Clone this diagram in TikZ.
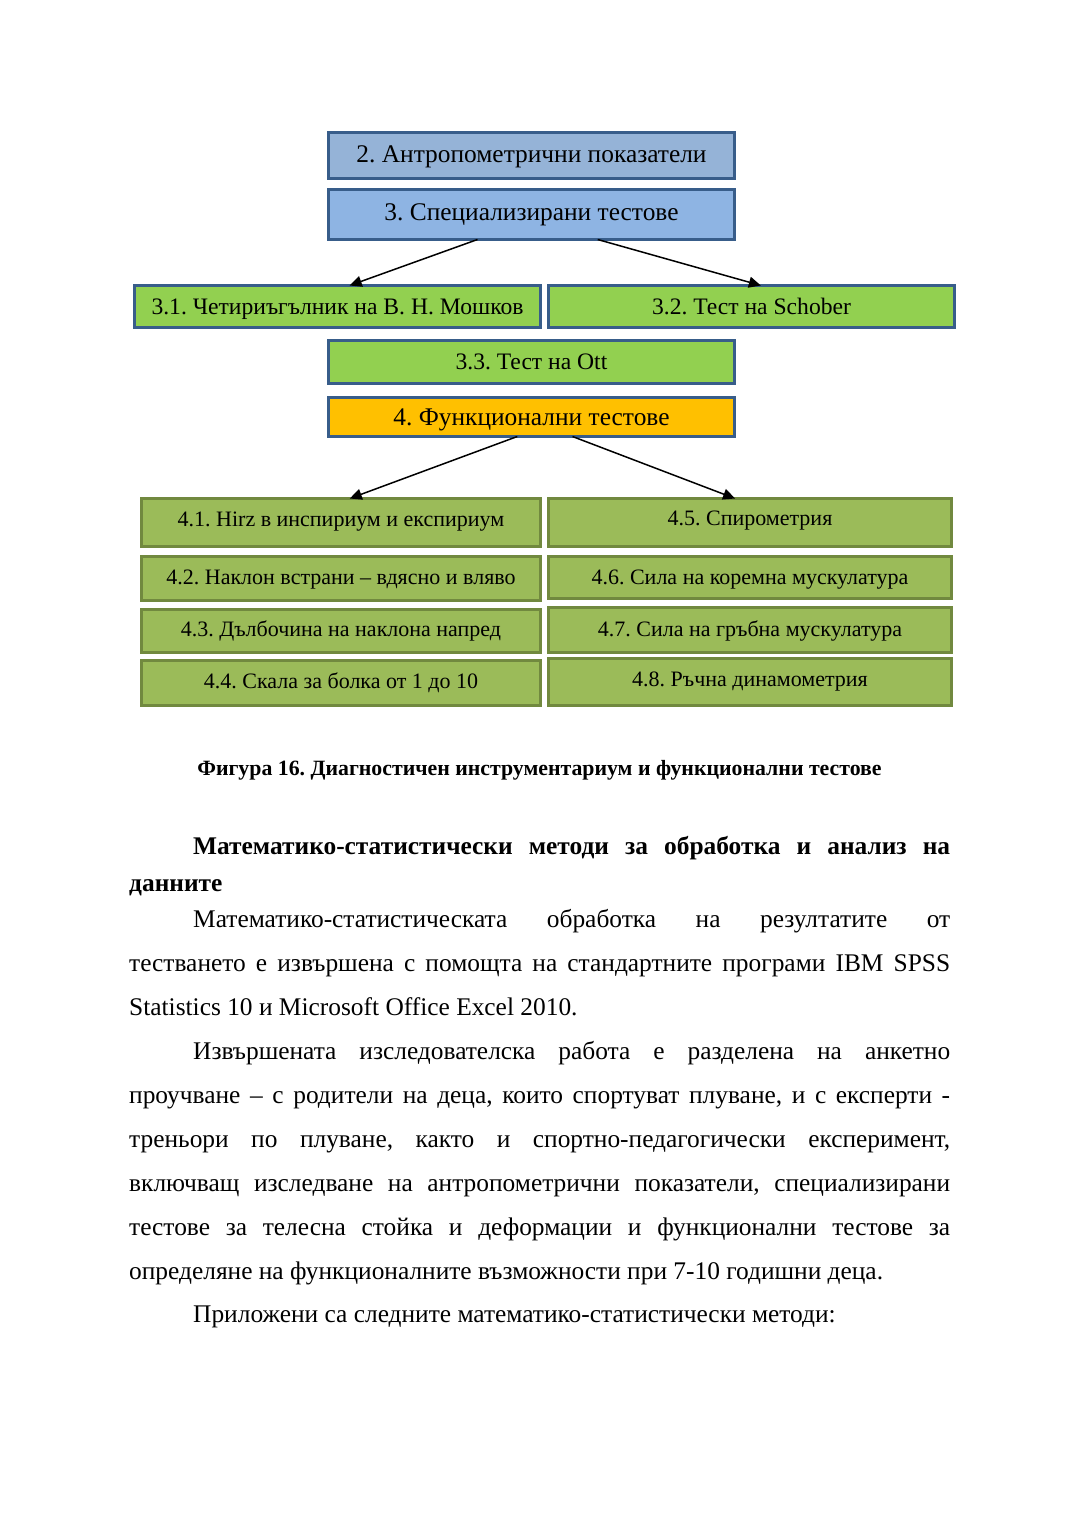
\documentclass[tikz,border=0pt]{standalone}
\usepackage{fontspec}
\setmainfont{Liberation Serif}
\usetikzlibrary{arrows.meta,calc}
\definecolor{bordblue}{HTML}{385D8A}
\definecolor{fillA}{HTML}{95B3D7}
\definecolor{fillB}{HTML}{8EB4E3}
\definecolor{fillG}{HTML}{92D050}
\definecolor{fillO}{HTML}{FFC000}
\definecolor{fillOl}{HTML}{9BBB59}
\definecolor{bordOl}{HTML}{71893F}
\tikzset{
  bx/.style={draw=bordblue, line width=3pt, inner sep=0pt, outer sep=0pt, font=\fontsize{25.4}{28}\selectfont, text=black, text height=17pt, text depth=2.6pt},
  gb/.style={bx, fill=fillG, font=\fontsize{23.6}{27}\selectfont, text height=16pt, text depth=-1pt},
  ob/.style={draw=bordOl, fill=fillOl, line width=3pt, inner sep=0pt, outer sep=0pt, font=\fontsize{22}{26}\selectfont, minimum height=#1, text height=15pt, text depth=4pt},
  arr/.style={line width=1.5pt, -{Triangle[length=12pt,width=11pt]}},
  txt/.style={anchor=base west, inner sep=0pt, font=\fontsize{25.4}{30}\selectfont},
  btxt/.style={anchor=base west, inner sep=0pt, font=\fontsize{25.4}{30}\selectfont\bfseries},
}
\begin{document}
\frenchspacing
\begin{tikzpicture}[x=1pt,y=-1pt]
\useasboundingbox[fill=white] (0,0) rectangle (1080,1527);
% top boxes
\node[bx, fill=fillA, minimum width=406pt, minimum height=46pt] (b2) at (531.5,155.5) {2. Антропометрични показатели};
\node[bx, fill=fillB, minimum width=406pt, minimum height=50pt, text depth=6pt] (b3) at (531.5,214.5) {3. Специализирани тестове};
\node[gb, minimum width=406pt, minimum height=42pt] (b31) at (337.5,306.5) {3.1. Четириъгълник на В. Н. Мошков};
\node[gb, minimum width=406pt, minimum height=42pt] (b32) at (751.5,306.5) {3.2. Тест на Schober};
\node[gb, minimum width=406pt, minimum height=43pt, text depth=1.4pt] (b33) at (531.5,362) {3.3. Тест на Ott};
\node[bx, fill=fillO, minimum width=406pt, minimum height=39pt, text depth=-3.6pt] (b4) at (531.5,417) {4. Функционални тестове};
% functional tests
\node[ob=48pt, minimum width=399pt, text depth=6.6pt] (b41) at (341,522.5) {4.1. Hirz в инспириум и експириум};
\node[ob=44pt, minimum width=399pt, text depth=4pt] (b42) at (341,578.5) {4.2. Наклон встрани – вдясно и вляво};
\node[ob=43pt, minimum width=399pt, text depth=3.6pt] (b43) at (341,631) {4.3. Дълбочина на наклона напред};
\node[ob=45pt, minimum width=399pt, text depth=4.4pt] (b44) at (341,683) {4.4. Скала за болка от 1 до 10};
\node[ob=48pt, minimum width=403pt, text depth=8.6pt] (b45) at (750,522.5) {4.5. Спирометрия};
\node[ob=42pt, minimum width=403pt, text depth=2pt] (b46) at (750,577.5) {4.6. Сила на коремна мускулатура};
\node[ob=45pt, minimum width=403pt, text depth=3pt] (b47) at (750,630) {4.7. Сила на гръбна мускулатура};
\node[ob=47pt, minimum width=403pt, text depth=5.6pt] (b48) at (750,682) {4.8. Ръчна динамометрия};
% arrows
\draw[arr] ($(b3.south west)!0.367!(b3.south east)$) -- ($(b31.north west)!0.53!(b31.north east)$);
\draw[arr] ($(b3.south west)!0.663!(b3.south east)$) -- ($(b32.north west)!0.523!(b32.north east)$);
\draw[arr] ($(b4.south west)!0.465!(b4.south east)$) -- ($(b41.north west)!0.522!(b41.north east)$);
\draw[arr] ($(b4.south west)!0.601!(b4.south east)$) -- ($(b45.north west)!0.463!(b45.north east)$);
% caption
\node[anchor=base, inner sep=0pt, font=\fontsize{21.8}{26}\selectfont\bfseries] (cap) at (539.5,775) {Фигура 16. Диагностичен инструментариум и функционални тестове};
% heading
\node[btxt] (h1) at (193,854) {\makebox[757pt][s]{Математико-статистически методи за обработка и анализ на}};
\node[btxt] (h2) at (129,891) {данните};
% paragraph 1
\node[txt] (p1) at (193,927) {\makebox[757pt][s]{Математико-статистическата обработка на резултатите от}};
\node[txt] (p2) at (129,971) {\makebox[821pt][s]{тестването е извършена с помощта на стандартните програми IBM SPSS}};
\node[txt] (p3) at (129,1015) {Statistics 10 и Microsoft Office Excel 2010.};
% paragraph 2
\node[txt] (q1) at (193,1059) {\makebox[757pt][s]{Извършената изследователска работа е разделена на анкетно}};
\node[txt] (q2) at (129,1103) {\makebox[821pt][s]{проучване – с родители на деца, които спортуват плуване, и с експерти -}};
\node[txt] (q3) at (129,1147) {\makebox[821pt][s]{треньори по плуване, както и спортно-педагогически експеримент,}};
\node[txt] (q4) at (129,1191) {\makebox[821pt][s]{включващ изследване на антропометрични показатели, специализирани}};
\node[txt] (q5) at (129,1235) {\makebox[821pt][s]{тестове за телесна стойка и деформации и функционални тестове за}};
\node[txt] (q6) at (129,1279) {определяне на функционалните възможности при 7-10 годишни деца.};
% paragraph 3
\node[txt] (r1) at (193,1322) {Приложени са следните математико-статистически методи:};
\end{tikzpicture}
\end{document}
